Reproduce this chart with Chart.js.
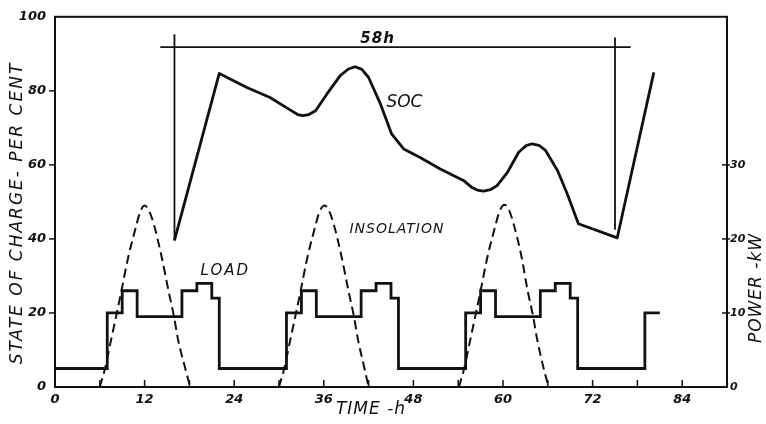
<!DOCTYPE html>
<html lang="en">
<head>
<meta charset="UTF-8" />
<title>State of charge chart</title>
<script src="https://cdn.jsdelivr.net/npm/chart.js"></script>
<style>
  body { margin: 0; background: #fff; }
  #wrap { width: 766px; height: 424px; }
</style>
</head>
<body>
<div id="wrap"><canvas id="myChart"></canvas></div>
<script>
// state of charge, per cent, against time in hours
const socHours = [16, 22, 25.7, 28.8, 31.7, 32.5, 33.2, 34.0, 34.9, 36.4, 38.2, 39.3, 40.2, 41.1, 42, 43.6, 45.1, 46.7, 48.9, 51.6, 54.7, 55.9, 56.7, 57.4, 58.3, 59.2, 60.6, 62.1, 63.1, 63.9, 64.8, 65.7, 67.3, 68.6, 70.1, 75.3, 80.2];
const socPct = [39.6, 84.7, 80.9, 78.2, 74.6, 73.6, 73.3, 73.6, 74.6, 79.1, 84.1, 85.9, 86.5, 85.8, 83.6, 76.4, 68.3, 64.3, 62.0, 58.9, 55.8, 53.8, 53.1, 52.9, 53.3, 54.4, 58.0, 63.4, 65.2, 65.7, 65.3, 63.9, 58.5, 52.2, 44.1, 40.3, 85.0];

// load, kW (step changes)
const loadHours = [0, 7, 9, 11, 17, 19, 21, 22, 31, 33, 35, 41, 43, 45, 46, 55, 57, 59, 65, 67, 69, 70, 79, 81];
const loadKw = [2.5, 10, 13, 9.5, 13, 14, 12, 2.5, 10, 13, 9.5, 13, 14, 12, 2.5, 10, 13, 9.5, 13, 14, 12, 2.5, 10, 10];

// insolation, kW (null breaks the line between days)
const insolHours = [6, 6.7, 7.5, 8.3, 8.9, 9.8, 10.7, 11.4, 12, 12.6, 13.2, 14.3, 15.2, 15.9, 16.5, 17.4, 18.1, 18.2,
  30, 30.7, 31.5, 32.3, 32.9, 33.8, 34.7, 35.4, 36.1, 36.7, 37.3, 38.4, 39.3, 40.0, 40.6, 41.4, 42.0, 42.1,
  54.1, 54.8, 55.6, 56.4, 57.0, 57.9, 58.8, 59.5, 60.2, 60.8, 61.4, 62.5, 63.3, 64.0, 64.6, 65.4, 66.1];
const insolKw = [0, 2.5, 6.3, 10.1, 13, 17.5, 21.1, 23.6, 24.5, 23.8, 22.1, 17.5, 13, 9.7, 6.3, 2.7, 0, null,
  0, 2.5, 6.3, 10.1, 13, 17.5, 21.1, 23.6, 24.5, 23.8, 22.1, 17.5, 13, 9.7, 6.3, 2.7, 0, null,
  0, 2.5, 6.3, 10.1, 13, 17.5, 21.1, 23.6, 24.6, 23.9, 22.1, 17.5, 13, 9.7, 6.3, 2.7, 0];

// 58 h bracket
const spanHours = [14.1, 77.1];
const spanPct = [91.8, 91.8];
const spanStartHours = [16, 16];
const spanStartPct = [95.3, 39.6];
const spanEndHours = [75, 75];
const spanEndPct = [94.4, 42.5];

// tick labels
const timeLabels = [0, 12, 24, 36, 48, 60, 72, 84];
const socLabels = [0, 20, 40, 60, 80, 100];
const powerLabels = [0, 10, 20, 30];

const INK = "#111";
const FONT = "DejaVu Sans";

const pts = (xs, ys) => xs.map((x, i) => ({ x: x, y: ys[i] }));

const inkPlugin = {
  id: "ink",
  afterDraw(chart) {
    const { ctx, chartArea: a, scales } = chart;
    const x = scales.x, y = scales.y, y2 = scales.y2;
    const line = (x1, y1, x2, y2_) => { ctx.beginPath(); ctx.moveTo(x1, y1); ctx.lineTo(x2, y2_); ctx.stroke(); };
    ctx.save();
    ctx.strokeStyle = INK;
    ctx.fillStyle = INK;
    ctx.lineWidth = 2;
    ctx.strokeRect(a.left, a.top, a.right - a.left, a.bottom - a.top);

    // time ticks point inward
    ctx.lineWidth = 1.5;
    x.ticks.forEach(t => {
      if (t.value <= 0 || t.value >= 90) return;
      const px = x.getPixelForValue(t.value);
      line(px, a.bottom, px, a.bottom - 7);
    });
    // per cent ticks point outward
    socLabels.forEach(v => {
      if (v === 0 || v === 100) return;
      const py = y.getPixelForValue(v);
      line(a.left - 6, py, a.left, py);
    });
    // power ticks cross the right axis
    powerLabels.forEach(v => {
      if (v === 0) return;
      const py = y2.getPixelForValue(v);
      line(a.right - 5, py, a.right + 3, py);
    });

    // curve labels
    const label = (txt, hx, pct, font, spacing) => {
      ctx.font = font;
      ctx.letterSpacing = spacing + "px";
      ctx.textAlign = "center";
      ctx.textBaseline = "middle";
      ctx.fillText(txt, x.getPixelForValue(hx), y.getPixelForValue(pct));
    };
    label("58h", 43.2, 94.1, `italic bold 15px ${FONT}`, 1);
    label("SOC", 46.8, 76.9, `italic 17px ${FONT}`, 0);
    label("INSOLATION", 45.8, 42.5, `italic 14px ${FONT}`, 1);
    label("LOAD", 22.8, 31.2, `italic 15px ${FONT}`, 2);

    // axis titles
    ctx.textAlign = "center";
    ctx.textBaseline = "middle";
    ctx.font = `italic 17px ${FONT}`;
    ctx.letterSpacing = "2px";
    ctx.save();
    ctx.translate(18, 213);
    ctx.rotate(-Math.PI / 2);
    ctx.fillText("STATE OF CHARGE- PER CENT", 0, 0);
    ctx.restore();

    ctx.letterSpacing = "1px";
    ctx.fillText("TIME -h", 371, 410);

    ctx.save();
    ctx.translate(757, 288);
    ctx.rotate(-Math.PI / 2);
    ctx.fillText("POWER -kW", 0, 0);
    ctx.restore();
    ctx.restore();
  }
};

const tickFont = { family: FONT, size: 13, style: "italic", weight: "bold" };

const ctx = document.getElementById("myChart").getContext("2d");
const chart = new Chart(ctx, {
  type: "line",
  data: {
    datasets: [
      {
        label: "SOC",
        data: pts(socHours, socPct),
        yAxisID: "y",
        borderColor: INK,
        borderWidth: 2.8,
        tension: 0,
        pointRadius: 0,
        borderJoinStyle: "round"
      },
      {
        label: "Load",
        data: pts(loadHours, loadKw),
        yAxisID: "y2",
        borderColor: INK,
        borderWidth: 2.8,
        stepped: "before",
        pointRadius: 0
      },
      {
        label: "Insolation",
        data: pts(insolHours, insolKw),
        yAxisID: "y2",
        borderColor: INK,
        borderWidth: 2,
        borderDash: [9, 5],
        cubicInterpolationMode: "monotone",
        spanGaps: false,
        pointRadius: 0
      },
      {
        label: "58h",
        data: pts(spanHours, spanPct),
        yAxisID: "y",
        borderColor: INK,
        borderWidth: 1.8,
        pointRadius: 0
      },
      {
        label: "start",
        data: pts(spanStartHours, spanStartPct),
        yAxisID: "y",
        borderColor: INK,
        borderWidth: 1.8,
        pointRadius: 0
      },
      {
        label: "end",
        data: pts(spanEndHours, spanEndPct),
        yAxisID: "y",
        borderColor: INK,
        borderWidth: 1.8,
        pointRadius: 0
      }
    ]
  },
  options: {
    responsive: true,
    maintainAspectRatio: false,
    animation: false,
    layout: { padding: { top: 16 } },
    plugins: {
      legend: { display: false },
      tooltip: { enabled: false }
    },
    scales: {
      x: {
        type: "linear",
        min: 0,
        max: 90,
        grid: { display: false, drawTicks: false },
        border: { display: false },
        afterFit: s => { s.height = 37; },
        ticks: {
          stepSize: 6,
          padding: 5,
          color: INK,
          font: tickFont,
          maxRotation: 0,
          autoSkip: false,
          callback: v => (timeLabels.includes(v) ? String(v) : "")
        }
      },
      y: {
        position: "left",
        min: 0,
        max: 100,
        grid: { display: false, drawTicks: false },
        border: { display: false },
        afterFit: s => { s.width = 55; },
        ticks: {
          stepSize: 20,
          padding: 9,
          color: INK,
          font: tickFont,
          callback: v => (socLabels.includes(v) ? String(v) : "")
        }
      },
      y2: {
        position: "right",
        min: 0,
        max: 50,
        grid: { display: false, drawTicks: false },
        border: { display: false },
        afterFit: s => { s.width = 39; },
        ticks: {
          stepSize: 10,
          padding: 3,
          color: INK,
          font: { family: FONT, size: 11, style: "italic", weight: "bold" },
          callback: v => (powerLabels.includes(v) ? String(v) : "")
        }
      }
    }
  },
  plugins: [inkPlugin]
});
</script>
</body>
</html>
